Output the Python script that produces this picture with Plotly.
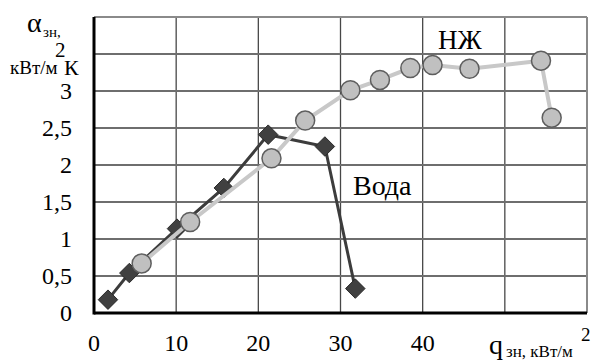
import plotly.graph_objects as go

# Data
water_q = [1.7, 4.3, 10.1, 15.8, 21.2, 28.1, 31.8]
water_a = [0.18, 0.54, 1.14, 1.69, 2.41, 2.25, 0.33]

nzh_q = [5.8, 11.7, 21.6, 25.7, 31.2, 34.8, 38.5, 41.2, 45.7, 54.4, 55.7]
nzh_a = [0.67, 1.23, 2.09, 2.60, 3.01, 3.15, 3.31, 3.35, 3.30, 3.41, 2.64]

x_tickvals = [0, 10, 20, 30, 40, 50, 60]
x_ticktext = ["0", "10", "20", "30", "40", "", ""]
y_tickvals = [0, 0.5, 1, 1.5, 2, 2.5, 3, 3.5, 4]
y_ticktext = ["0", "0,5", "1", "1,5", "2", "2,5", "3", "", ""]

FONT = "Times New Roman, Liberation Serif, serif"

fig = go.Figure()
fig.add_trace(go.Scatter(
    x=water_q, y=water_a, mode="lines+markers", name="Вода",
    line=dict(color="#3c3c3c", width=3),
    marker=dict(symbol="diamond", size=15, color="#404040",
                line=dict(color="#2a2a2a", width=1)),
))
fig.add_trace(go.Scatter(
    x=nzh_q, y=nzh_a, mode="lines+markers", name="НЖ",
    line=dict(color="#c8c8c8", width=4),
    marker=dict(symbol="circle", size=19, color="#c0c0c0",
                line=dict(color="#5e5e5e", width=1.5)),
))

fig.update_layout(
    width=595, height=361,
    margin=dict(l=94, r=8, t=17, b=48),
    paper_bgcolor="white", plot_bgcolor="white",
    showlegend=False,
    font=dict(family=FONT, color="black", size=24),
    xaxis=dict(
        range=[0, 60], tickmode="array", tickvals=x_tickvals, ticktext=x_ticktext,
        showgrid=False, showline=False, zeroline=False, automargin=False,
        ticks="", ticklabelstandoff=13,
        tickfont=dict(family=FONT, size=24, color="black"),
    ),
    yaxis=dict(
        range=[0, 4], tickmode="array", tickvals=y_tickvals, ticktext=y_ticktext,
        showgrid=False, showline=False, zeroline=False, automargin=False,
        ticks="", ticklabelstandoff=21,
        tickfont=dict(family=FONT, size=24, color="black"),
    ),
)

# grid lines at the tick values
for v in x_tickvals[1:-1]:
    fig.add_shape(type="line", xref="x", yref="paper", x0=v, x1=v, y0=0, y1=1,
                  layer="below", line=dict(color="#474747", width=1.3))
for v in y_tickvals[1:-1]:
    fig.add_shape(type="line", xref="paper", yref="y", x0=0, x1=1, y0=v, y1=v,
                  layer="below", line=dict(color="#6e6e6e", width=2))

# frame: top/right gray, left/bottom black thick
fig.add_shape(type="line", xref="paper", yref="paper", x0=0, x1=1, y0=1, y1=1,
              layer="below", line=dict(color="#8a8a8a", width=2))
fig.add_shape(type="line", xref="paper", yref="paper", x0=1, x1=1, y0=0, y1=1,
              layer="below", line=dict(color="#8a8a8a", width=2))
fig.add_shape(type="line", xref="paper", yref="paper", x0=0, x1=0, y0=-0.005, y1=1,
              layer="below", line=dict(color="black", width=3))
fig.add_shape(type="line", xref="paper", yref="paper", x0=0, x1=1, y0=0, y1=0,
              layer="below", line=dict(color="black", width=3))

def ann(text, x, y, size, xanchor="left", yanchor="middle"):
    fig.add_annotation(text=text, x=x, y=y, xref="paper", yref="paper",
                       showarrow=False, xanchor=xanchor, yanchor=yanchor,
                       font=dict(family=FONT, size=size, color="black"))

def px(xp, yp):
    return (xp - 94) / (587 - 94), (313 - yp) / (313 - 17)

# series labels
x, y = px(460, 40); ann("НЖ", x, y, 27, "center")
x, y = px(382, 185); ann("Вода", x, y, 28, "center")

# y axis title
x, y = px(25, 22); ann("α", x, y, 28)
x, y = px(41, 32); ann("зн,", x, y, 15)
x, y = px(60, 68); ann("кВт/м", x, y, 19, "right")
x, y = px(53, 50); ann("2", x, y, 21)
x, y = px(62, 67); ann("К", x, y, 22)

# x axis title
x, y = px(487, 344); ann("q", x, y, 28)
x, y = px(504, 351); ann("зн, кВт/м", x, y, 17)
x, y = px(579, 334); ann("2", x, y, 19)

fig.write_html("out.html", config={"displayModeBar": False},
               post_script="document.body.style.margin='0px';")
